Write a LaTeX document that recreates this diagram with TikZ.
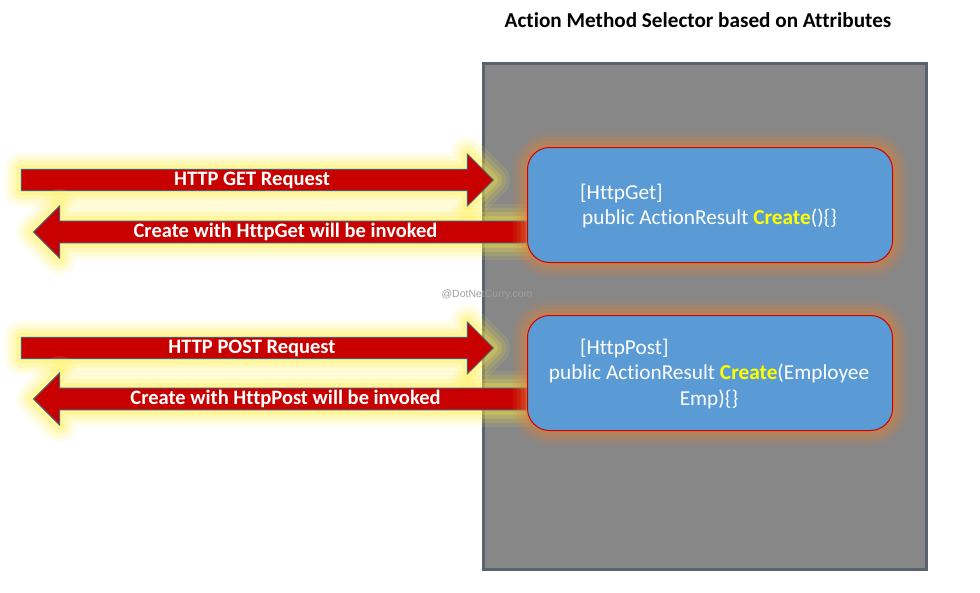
\documentclass[tikz,border=0pt]{standalone}
\usepackage{fontspec}
\setmainfont{Carlito}[Ligatures=NoCommon]
\newfontfamily\wmfont{Liberation Sans}
\usetikzlibrary{shapes.arrows}
\definecolor{boxgray}{HTML}{878787}
\definecolor{boxedge}{HTML}{59626E}
\definecolor{arrred}{HTML}{C80000}
\definecolor{arredge}{HTML}{4F5A78}
\definecolor{glowy}{HTML}{FFF040}
\definecolor{bluebox}{HTML}{5B9BD5}
\definecolor{glowo}{HTML}{E0803A}
\definecolor{codeyellow}{HTML}{FFFF00}
\newcommand{\kwcreate}[1]{\textcolor{codeyellow}{\bfseries #1}}
\tikzset{
  bigarrow/.style={single arrow, fill=arrred, draw=arredge, line width=1,
    minimum width=52, single arrow head extend=13, single arrow tip angle=90,
    inner sep=0, text=white, font=\fontsize{20.5}{24}\selectfont\bfseries,
    preaction={draw=glowy, line width=34, opacity=0.10, line join=round},
    preaction={draw=glowy, line width=26, opacity=0.13, line join=round},
    preaction={draw=glowy, line width=18, opacity=0.18, line join=round},
    preaction={draw=glowy, line width=10, opacity=0.25, line join=round}},
  codebox/.style={rounded corners=22, fill=bluebox, draw=red!80!black, line width=1,
    minimum width=365, minimum height=115, anchor=north west,
    preaction={draw=glowo, line width=30, opacity=0.12},
    preaction={draw=glowo, line width=22, opacity=0.16},
    preaction={draw=glowo, line width=14, opacity=0.22},
    preaction={draw=glowo, line width=6, opacity=0.3}},
  codetext/.style={text=white, font=\fontsize{21.3}{25.5}\selectfont, inner sep=0},
  panel/.style={draw=boxedge, fill=boxgray, line width=3, anchor=north west,
    minimum width=443, minimum height=506}
}
\begin{document}
\begin{tikzpicture}[x=1pt, y=-1pt]
\useasboundingbox (0,0) rectangle (980,592);
\fill[white] (0,0) rectangle (980,592);
\node[font=\fontsize{21.2}{24}\selectfont\bfseries] (title) at (698,20) {Action Method Selector based on Attributes};
\node[panel] (panel) at (482,62) {};
\node[text=gray!75, font=\wmfont\fontsize{10.5}{12}\selectfont, inner sep=0] (wm) at (487,295) {@DotNetCurry.com};
% arrows
\node[bigarrow, minimum height=472] (getreq) at (252,180) {HTTP GET Request};
\node[bigarrow, shape border rotate=180, minimum height=493] (getres) at (285.5,232) {Create with HttpGet will be invoked};
\node[bigarrow, minimum height=472] (postreq) at (252,348) {HTTP POST Request};
\node[bigarrow, shape border rotate=180, minimum height=493] (postres) at (285.5,399) {Create with HttpPost will be invoked};
% code boxes
\node[codebox] (getbox) at (527,147) {};
\node[codebox] (postbox) at (527,315) {};
\node[codetext, align=left, anchor=west] (gettext) at (580,206) {[HttpGet]\\\hspace*{2pt}public ActionResult \kwcreate{Create}()\{\}};
\node[codetext, align=center] (posttext) at (709,374) {\makebox[320pt][l]{\hspace*{31pt}[HttpPost]}\\public ActionResult \kwcreate{Create}(Employee\\Emp)\{\}};
\end{tikzpicture}
\end{document}
